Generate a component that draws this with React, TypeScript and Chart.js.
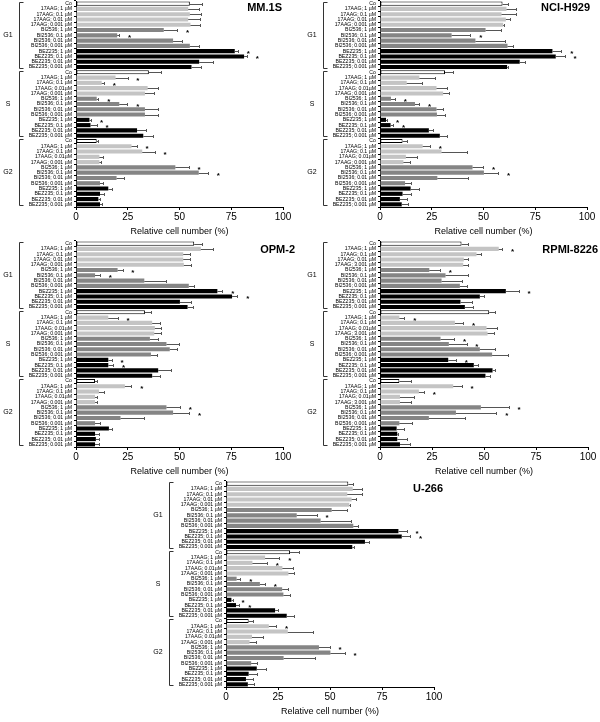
import React, { useEffect, useRef } from 'react';
import { Chart, registerables } from 'chart.js';
Chart.register(...registerables);
Chart.defaults.font.family = '"Liberation Sans", Arial, sans-serif';

const GROUPS = ['G1', 'S', 'G2'];
const DRUGS = ['Co', '17AAG', '17AAG', '17AAG', '17AAG', 'BI2536', 'BI2536', 'BI2536', 'BI2536', 'BEZ235', 'BEZ235', 'BEZ235', 'BEZ235'];
const LABELS_G1 = ['Co', '17AAG; 1 µM', '17AAG; 0.1 µM', '17AAG; 0.01 µM', '17AAG; 0.001 µM', 'BI2536; 1 µM', 'BI2536; 0.1 µM', 'BI2536; 0.01 µM', 'BI2536; 0.001 µM', 'BEZ235; 1 µM', 'BEZ235; 0.1 µM', 'BEZ235; 0.01 µM', 'BEZ235; 0.001 µM'];
const LABELS_S_G2 = ['Co', '17AAG; 1 µM', '17AAG; 0.1 µM', '17AAG; 0.01µM', '17AAG; 0.001 µM', 'BI2536; 1 µM', 'BI2536; 0.1 µM', 'BI2536; 0.01 µM', 'BI2536; 0.001 µM', 'BEZ235; 1 µM', 'BEZ235; 0.1 µM', 'BEZ235; 0.01 µM', 'BEZ235; 0.001 µM'];
const LABELS_RPMI_G1 = ['Co', '17AAG; 1 µM', '17AAG; 0.1 µM', '17AAG; 0.01 µM', '17AAG; 3.001 µM', 'BI2536; 1 µM', 'BI2536; 0.1 µM', 'BI2536; 0.01 µM', 'BI2536; 0.001 µM', 'BEZ235; 1 µM', 'BEZ235; 0.1 µM', 'BEZ235; 0.01 µM', 'BEZ235; 0.001 µM'];
const LABELS_RPMI_S_G2 = ['Co', '17AAG; 1 µM', '17AAG; 0.1 µM', '17AAG; 0.01µM', '17AAG; 3.001 µM', 'BI2536; 1 µM', 'BI2536; 0.1 µM', 'BI2536; 0.01 µM', 'BI2536; 0.001 µM', 'BEZ235; 1 µM', 'BEZ235; 0.1 µM', 'BEZ235; 0.01 µM', 'BEZ235; 0.001 µM'];
const X_TICKS = [0, 25, 50, 75, 100];
const X_TITLE = 'Relative cell number (%)';

// MM.1S
const MM1S_G1 = [55, 54.2, 55, 54.2, 55.3, 42.4, 19.9, 46.9, 55, 76.7, 81.2, 59.5, 55.8];
const MM1S_G1_ERR = [6, 5.3, 5.6, 5.6, 4.5, 6.5, 1, 4.1, 4.5, 1.6, 1.4, 6.7, 4.5];
const MM1S_S = [35.2, 19.1, 12.4, 34.6, 33.3, 10, 20.9, 33.3, 33.3, 6.5, 7, 29.5, 32.5];
const MM1S_S_ERR = [5.8, 5.8, 1.1, 5.1, 4.3, 0.8, 3.9, 6.1, 6.1, 0.8, 3, 4.5, 4.5];
const MM1S_G2 = [10, 26.8, 32, 11.3, 11.3, 48, 59.3, 19.6, 11.6, 15.6, 11.6, 10.8, 11.6];
const MM1S_G2_ERR = [0.6, 2.5, 6, 1.6, 0.8, 6.5, 4.5, 3.7, 1.6, 1.6, 2.1, 0.8, 0.8];
const MM1S_STARS = [5, 6, 9, 10, 14, 15, 18, 19, 22, 23, 27, 28, 31, 32];

// NCI-H929
const NCI_G1 = [59.2, 61.1, 58.7, 60.8, 59.5, 51, 34.6, 46.1, 61.6, 83.3, 84.9, 67.5, 61.4];
const NCI_G1_ERR = [2.7, 4.8, 7.2, 2.2, 0.5, 7.4, 9.1, 14.2, 2.7, 4.3, 4.3, 2.4, 0.5];
const NCI_S = [31.4, 19, 12.9, 27.3, 30.5, 5.3, 16.9, 27.3, 27.5, 2.9, 5.1, 23.6, 28.9];
const NCI_S_ERR = [4, 7.5, 7.2, 5.3, 2.8, 1.9, 2.1, 2.9, 3.8, 0.6, 1.3, 1.8, 3.3];
const NCI_G2 = [10.9, 20.6, 29.7, 12.5, 11.3, 44.7, 50.2, 27.7, 12.1, 14.8, 10.9, 9.6, 10.5];
const NCI_G2_ERR = [2.3, 3.5, 12.1, 5.2, 3.2, 5.1, 6.9, 14.9, 2.7, 4.2, 3.9, 3.3, 3.2];
const NCI_STARS = [6, 9, 10, 18, 19, 22, 23, 27, 31, 32];

// OPM-2
const OPM_G1 = [57.1, 60.3, 51.8, 51.8, 52.1, 20.1, 9.2, 33, 54.5, 68.3, 75.4, 50.2, 53.9];
const OPM_G1_ERR = [3.8, 5.9, 3.5, 3.2, 3.4, 2.4, 2.4, 10.7, 2.4, 2.4, 2.6, 5.3, 2.4];
const OPM_S = [33.3, 15.6, 36.8, 38.1, 37.8, 35.7, 43.7, 45.3, 36.2, 15.6, 15.6, 39.7, 36.8];
const OPM_S_ERR = [2.7, 4.5, 4, 3.2, 3.5, 4, 6, 3.6, 3, 1.6, 2.4, 6.1, 4];
const OPM_G2 = [9.2, 23.6, 11.1, 9.2, 9.2, 43.7, 46.9, 21.5, 9.2, 15.9, 9.2, 9.6, 9.2];
const OPM_G2_ERR = [0.8, 3.2, 2.4, 1.1, 1.1, 6.5, 7.8, 11.3, 2.4, 1.3, 1.9, 1.5, 2.1];
const OPM_STARS = [5, 6, 9, 10, 14, 22, 23, 27, 31, 32];

// RPMI-8226
const RPMI_G1 = [39.2, 57.1, 46.4, 40.3, 40, 23.7, 31.5, 29.6, 38.4, 60.5, 48, 38.7, 40.8];
const RPMI_G1_ERR = [3.2, 1.6, 2.1, 2.1, 2.4, 5.1, 10.9, 9.9, 3.5, 6.2, 2.1, 5.6, 4];
const RPMI_S = [52.5, 9.3, 36, 51.2, 51.7, 29.1, 33.1, 48, 53.9, 32.8, 45.1, 54.1, 50.7];
const RPMI_S_ERR = [2.7, 2.4, 4, 5.1, 3, 6.6, 8.5, 7.2, 7.4, 3.7, 2.1, 1.4, 2.1];
const RPMI_G2 = [9.3, 35.2, 18.7, 9.6, 9.6, 48.5, 36.5, 23.5, 9.3, 8, 8.3, 8.3, 9.6];
const RPMI_G2_ERR = [5.6, 4, 2.4, 6.7, 5.3, 13.4, 19.5, 17.3, 6.2, 3.7, 0.5, 4.5, 4.8];
const RPMI_STARS = [1, 5, 9, 14, 15, 18, 19, 22, 27, 28, 31, 32];

// U-266
const U266_G1 = [58.8, 60.9, 58.3, 60.4, 59.3, 50.8, 34, 45.5, 61.2, 82.9, 84.5, 66.8, 60.7];
const U266_G1_ERR = [2.4, 4.6, 7.2, 1.9, 0.5, 7.2, 9.6, 14.4, 2.4, 4, 4, 2.1, 0.8];
const U266_S = [30.8, 18.8, 12.7, 27.1, 30, 5.1, 16.3, 27, 27.6, 2.6, 4.8, 23.6, 29.2];
const U266_S_ERR = [4.5, 6.9, 7, 5.3, 2.9, 1.8, 2.4, 2.9, 3.2, 0.6, 1.6, 1.6, 3.5];
const U266_G2 = [10.9, 20.6, 29.7, 12.5, 11.3, 44.7, 50.2, 27.7, 12.1, 14.8, 10.9, 9.6, 10.5];
const U266_G2_ERR = [2.3, 3.5, 12.1, 5.2, 3.2, 5.1, 6.9, 14.9, 2.7, 4.2, 3.9, 3.3, 3.2];
const U266_STARS = [6, 9, 10, 14, 15, 18, 19, 22, 23, 27, 31, 32];

const DRUG_COLORS: Record<string, string> = { Co: '#ffffff', '17AAG': '#c4c4c4', BI2536: '#858585', BEZ235: '#000000' };
const STAR_GAP = 5;

type Panel = {
  title: string; labels: string[]; values: number[]; errors: number[]; stars: number[];
  left: number; top: number; chartLeft: number; padRight: number; titleDx: number; titleY: number;
};

const PANELS: Panel[] = [
  { title: 'MM.1S', labels: [...LABELS_G1, ...LABELS_S_G2, ...LABELS_S_G2], values: [...MM1S_G1, ...MM1S_S, ...MM1S_G2], errors: [...MM1S_G1_ERR, ...MM1S_S_ERR, ...MM1S_G2_ERR], stars: MM1S_STARS, left: 0, top: 0, chartLeft: 76, padRight: 17, titleDx: -1, titleY: 10.5 },
  { title: 'NCI-H929', labels: [...LABELS_G1, ...LABELS_S_G2, ...LABELS_S_G2], values: [...NCI_G1, ...NCI_S, ...NCI_G2], errors: [...NCI_G1_ERR, ...NCI_S_ERR, ...NCI_G2_ERR], stars: NCI_STARS, left: 300, top: 0, chartLeft: 80, padRight: 13, titleDx: 3, titleY: 10.5 },
  { title: 'OPM-2', labels: [...LABELS_G1, ...LABELS_S_G2, ...LABELS_S_G2], values: [...OPM_G1, ...OPM_S, ...OPM_G2], errors: [...OPM_G1_ERR, ...OPM_S_ERR, ...OPM_G2_ERR], stars: OPM_STARS, left: 0, top: 240, chartLeft: 76, padRight: 17, titleDx: 12, titleY: 12.5 },
  { title: 'RPMI-8226', labels: [...LABELS_RPMI_G1, ...LABELS_RPMI_S_G2, ...LABELS_RPMI_S_G2], values: [...RPMI_G1, ...RPMI_S, ...RPMI_G2], errors: [...RPMI_G1_ERR, ...RPMI_S_ERR, ...RPMI_G2_ERR], stars: RPMI_STARS, left: 300, top: 240, chartLeft: 80, padRight: 12, titleDx: 10, titleY: 12.5 },
  { title: 'U-266', labels: [...LABELS_G1, ...LABELS_S_G2, ...LABELS_S_G2], values: [...U266_G1, ...U266_S, ...U266_G2], errors: [...U266_G1_ERR, ...U266_S_ERR, ...U266_G2_ERR], stars: U266_STARS, left: 150, top: 480, chartLeft: 76, padRight: 16, titleDx: 9, titleY: 12 },
];

function makeDecor(p: Panel) {
  return {
    id: 'decor',
    afterDatasetsDraw(chart: any) {
      const { ctx, chartArea } = chart;
      const xs = chart.scales.x;
      const ys = chart.scales.y;
      const meta = chart.getDatasetMeta(0);
      ctx.save();
      // error bars and asterisks
      meta.data.forEach((bar: any, i: number) => {
        const v = p.values[i];
        const e = p.errors[i];
        const x0 = xs.getPixelForValue(v);
        const x1 = Math.round(xs.getPixelForValue(v + e));
        const y = Math.round(bar.y);
        ctx.strokeStyle = '#555';
        ctx.lineWidth = 1;
        ctx.beginPath();
        ctx.moveTo(x0, y + 0.5);
        ctx.lineTo(x1, y + 0.5);
        ctx.moveTo(x1 + 0.5, y - 1);
        ctx.lineTo(x1 + 0.5, y + 2);
        ctx.stroke();
        if (p.stars.includes(i)) {
          ctx.fillStyle = '#000';
          ctx.font = 'bold 8px "Liberation Sans", Arial, sans-serif';
          ctx.textAlign = 'center';
          ctx.textBaseline = 'middle';
          ctx.fillText('*', xs.getPixelForValue(v + e + STAR_GAP), y + 2.5);
        }
      });
      // group brackets and labels
      const step = ys.getPixelForValue(1) - ys.getPixelForValue(0);
      GROUPS.forEach((g, gi) => {
        const first = gi * 13;
        const last = first + 12;
        const top = Math.round(ys.getPixelForValue(first) - step / 2) + 1;
        const bot = Math.round(ys.getPixelForValue(last) + step / 2) - 1;
        const bx = Math.round(chartArea.left - 57) + 0.5;
        ctx.strokeStyle = '#333';
        ctx.lineWidth = 1;
        ctx.beginPath();
        ctx.moveTo(bx + 4, top + 0.5);
        ctx.lineTo(bx, top + 0.5);
        ctx.lineTo(bx, bot - 0.5);
        ctx.lineTo(bx + 4, bot - 0.5);
        ctx.stroke();
        ctx.fillStyle = '#000';
        ctx.font = '7px "Liberation Sans", Arial, sans-serif';
        ctx.textAlign = 'center';
        ctx.textBaseline = 'middle';
        ctx.fillText(g, chartArea.left - 68, (top + bot) / 2);
      });
      // panel title
      ctx.fillStyle = '#000';
      ctx.font = 'bold 11px "Liberation Sans", Arial, sans-serif';
      ctx.textAlign = 'right';
      ctx.textBaseline = 'alphabetic';
      ctx.fillText(p.title, chartArea.right + p.titleDx, p.titleY);
      ctx.restore();
    },
  };
}

function PanelChart({ p }: { p: Panel }) {
  const ref = useRef<HTMLCanvasElement | null>(null);
  useEffect(() => {
    if (!ref.current) return;
    const drugs = [...DRUGS, ...DRUGS, ...DRUGS];
    const chart = new Chart(ref.current, {
      type: 'bar',
      data: {
        labels: p.labels,
        datasets: [{
          data: p.values,
          backgroundColor: drugs.map((d) => DRUG_COLORS[d]),
          borderColor: '#000',
          borderWidth: drugs.map((d) => (d === 'Co' ? 1 : 0)),
          borderSkipped: false,
          barPercentage: 0.78,
          categoryPercentage: 1,
        }],
      },
      options: {
        indexAxis: 'y',
        responsive: false,
        animation: false,
        devicePixelRatio: 1,
        layout: { padding: { left: 0, right: p.padRight, top: 1, bottom: 3 } },
        plugins: { legend: { display: false }, tooltip: { enabled: false }, title: { display: false } },
        scales: {
          x: {
            type: 'linear',
            min: 0,
            max: 100,
            afterBuildTicks: (s: any) => { s.ticks = X_TICKS.map((v) => ({ value: v })); },
            afterFit: (s: any) => { s.height = 30; s.paddingLeft = 0; s.paddingRight = 0; s.paddingTop = 0; s.paddingBottom = 0; },
            ticks: { color: '#000', font: { size: 10 }, padding: 1, maxRotation: 0 },
            grid: { drawOnChartArea: false, drawTicks: true, tickLength: 3, color: '#000' },
            border: { display: true, color: '#000', width: 1 },
            title: { display: true, text: X_TITLE, color: '#000', font: { size: 9 }, padding: 0 },
          },
          y: {
            type: 'category',
            afterFit: (s: any) => { s.width = p.chartLeft; s.paddingTop = 0; s.paddingBottom = 0; s.paddingLeft = 0; s.paddingRight = 0; },
            ticks: { color: '#000', font: { size: 5.2 }, autoSkip: false, padding: 2 },
            grid: { drawOnChartArea: false, drawTicks: true, tickLength: 2, color: '#000' },
            border: { display: true, color: '#000', width: 1 },
          },
        },
      } as any,
      plugins: [makeDecor(p)],
    });
    return () => chart.destroy();
  }, [p]);
  return (
    <canvas
      ref={ref}
      width={300}
      height={240}
      style={{ position: 'absolute', left: p.left, top: p.top, width: 300, height: 240, display: 'block' }}
    />
  );
}

export default function App() {
  return (
    <div style={{ position: 'absolute', left: 0, top: 0, width: 600, height: 722, background: '#fff', overflow: 'hidden' }}>
      {PANELS.map((p) => (
        <PanelChart key={p.title} p={p} />
      ))}
    </div>
  );
}
